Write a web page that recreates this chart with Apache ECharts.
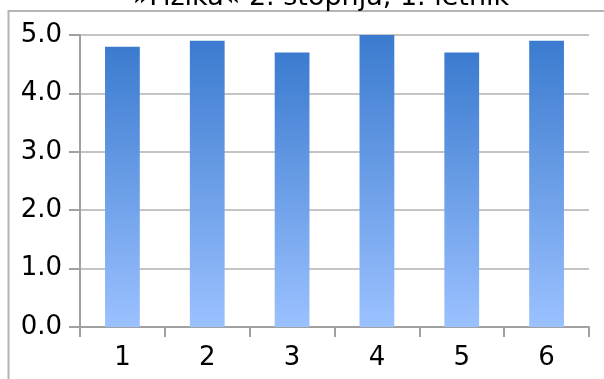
<!DOCTYPE html>
<html>
<head>
<meta charset="utf-8">
<script src="https://cdn.jsdelivr.net/npm/echarts@6/dist/echarts.min.js"></script>
<style>
  html, body { margin: 0; padding: 0; background: #fff; }
  #chart { width: 604px; height: 379px; }
</style>
</head>
<body>
<div id="chart"></div>
<script>
// Survey answers per question (average grade)
const titleText = '»Fizika« 2. stopnja, 1. letnik';
const categories = ['1', '2', '3', '4', '5', '6'];
const scores = [4.8, 4.9, 4.7, 5.0, 4.7, 4.9];

const chart = echarts.init(document.getElementById('chart'), null, { renderer: 'canvas' });
const FONT = 'DejaVu Sans';

chart.setOption({
  animation: false,
  backgroundColor: '#ffffff',
  title: {
    text: titleText,
    left: 316,
    top: -21,
    textAlign: 'center',
    textStyle: { fontFamily: FONT, fontSize: 27, fontWeight: 'normal', color: '#000' }
  },
  graphic: [{
    type: 'rect',
    silent: true,
    z: -1,
    shape: { x: 8.5, y: 11, width: 700, height: 500 },
    style: { fill: null, stroke: '#b4b4b4', lineWidth: 2 }
  }],
  grid: { left: 80, right: 15, top: 35, bottom: 52, containLabel: false },
  xAxis: {
    type: 'category',
    data: categories,
    boundaryGap: true,
    axisLine: { lineStyle: { color: '#a0a0a0', width: 2 } },
    axisTick: { show: true, alignWithLabel: false, length: 10, lineStyle: { color: '#a0a0a0', width: 2 } },
    axisLabel: { fontFamily: FONT, fontSize: 26, color: '#000', margin: 18 }
  },
  yAxis: {
    type: 'value',
    min: 0,
    max: 5,
    interval: 1,
    axisLine: { show: true, lineStyle: { color: '#a0a0a0', width: 2 } },
    axisTick: { show: true, length: 11, lineStyle: { color: '#a0a0a0', width: 2 } },
    axisLabel: {
      fontFamily: FONT, fontSize: 26, color: '#000', margin: 18,
      formatter: v => v.toFixed(1)
    },
    splitLine: { lineStyle: { color: '#c4c4c4', width: 2 } }
  },
  series: [{
    type: 'bar',
    data: scores,
    barWidth: '41%',
    itemStyle: {
      color: new echarts.graphic.LinearGradient(0, 0, 0, 1, [
        { offset: 0, color: '#3b7bcf' },
        { offset: 1, color: '#9bc1ff' }
      ])
    }
  }]
});
</script>
</body>
</html>
